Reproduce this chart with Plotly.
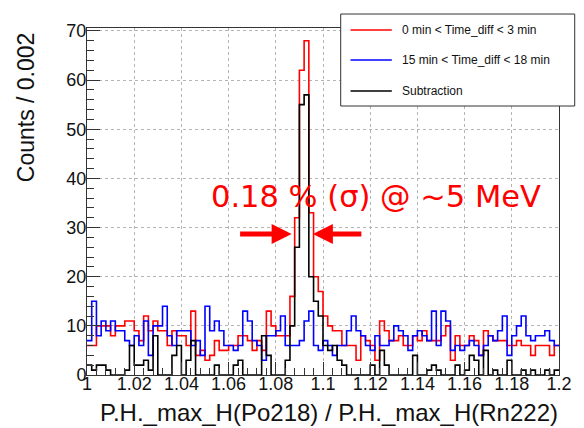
import numpy as np
import plotly.graph_objects as go

# ---- data (counts per 0.002 bin) ----
bin_low = 1.0
bin_width = 0.002

red_counts = [6, 6, 10, 10, 10, 8, 10, 10, 11, 11,
              9, 7, 12, 9, 11, 9, 9, 6, 9, 8,
              8, 6, 13, 4, 5, 3, 4, 7, 5, 5,
              6, 6, 8, 8, 7, 5, 7, 5, 13, 10,
              8, 8, 8, 16, 32, 62, 68, 33, 20, 17,
              12, 10, 9, 9, 6, 6, 6, 3, 8, 7,
              6, 3, 11, 9, 7, 7, 8, 6, 6, 8,
              7, 9, 7, 7, 7, 8, 10, 3, 8, 6,
              6, 8, 7, 4, 9, 8, 7, 7, 7, 6,
              6, 7, 6, 6, 4, 6, 6, 6, 4, 6]

blue_counts = [7, 15, 8, 11, 9, 11, 9, 9, 7, 6,
               8, 6, 11, 4, 10, 10, 14, 8, 6, 9,
               9, 9, 6, 7, 4, 14, 9, 11, 9, 6,
               6, 5, 6, 13, 11, 7, 6, 3, 8, 8,
               9, 12, 6, 6, 6, 7, 11, 13, 6, 5,
               7, 6, 4, 6, 6, 9, 12, 9, 8, 6,
               5, 8, 6, 6, 7, 10, 9, 8, 5, 8,
               9, 8, 7, 13, 6, 13, 11, 5, 6, 5,
               6, 7, 6, 4, 6, 8, 7, 9, 12, 4,
               8, 10, 12, 8, 7, 8, 8, 9, 7, 6]

black_counts = [2, 1, 2, 2, 1, 0, 0, 0, 1, 6,
                2, 2, 3, 1, 8, 0, 0, 0, 4, 6,
                0, 3, 7, 0, 0, 0, 0, 2, 0, 0,
                0, 2, 3, 0, 0, 0, 0, 8, 4, 0,
                0, 0, 3, 10, 26, 55, 57, 20, 15, 12,
                6, 5, 6, 3, 2, 0, 0, 0, 0, 0,
                2, 0, 5, 2, 0, 0, 0, 0, 0, 4,
                0, 0, 1, 2, 1, 0, 0, 0, 2, 0,
                1, 4, 3, 0, 5, 0, 1, 0, 0, 3,
                0, 0, 1, 0, 1, 0, 0, 1, 0, 1]

series_names = ["0 min < Time_diff < 3 min",
                "15 min < Time_diff < 18 min",
                "Subtraction"]
series_colors = ["#ff0000", "#0000ff", "#000000"]

x_tick_vals = [1.0, 1.02, 1.04, 1.06, 1.08, 1.1, 1.12, 1.14, 1.16, 1.18, 1.2]
x_tick_text = ["1", "1.02", "1.04", "1.06", "1.08", "1.1", "1.12", "1.14", "1.16", "1.18", "1.2"]
y_tick_vals = [0, 10, 20, 30, 40, 50, 60, 70]

x_title = "P.H._max_H(Po218) / P.H._max_H(Rn222)"
y_title = "Counts / 0.002"
note_text = "0.18 % (σ) @ ~5 MeV"

# ---- figure ----
n_bins = len(red_counts)
edges = bin_low + bin_width * np.arange(n_bins + 1)

fig = go.Figure()
for vals, name, col in zip([red_counts, blue_counts, black_counts], series_names, series_colors):
    yv = list(vals) + [vals[-1]]
    fig.add_trace(go.Scatter(x=edges, y=yv, mode="lines", name=name,
                             line=dict(color=col, width=1.6, shape="hv"),
                             showlegend=False, hoverinfo="skip"))

tick_font = dict(family="Liberation Sans, Arial, sans-serif", size=18, color="#111")
grid_col = "#b4b4b4"

fig.update_xaxes(range=[1.0, 1.2], tickvals=x_tick_vals, ticktext=x_tick_text,
                 ticks="inside", ticklen=13, tickwidth=1, tickcolor="#333",
                 minor=dict(dtick=0.004, tick0=1.0, ticks="inside", ticklen=7, tickcolor="#333", showgrid=False),
                 showline=True, linecolor="#333", linewidth=1, mirror=True,
                 showgrid=True, gridcolor=grid_col, griddash="dot", gridwidth=1,
                 zeroline=False, tickfont=tick_font, ticklabelstandoff=-8)
fig.update_yaxes(range=[0, 70.6], tickvals=y_tick_vals,
                 ticks="inside", ticklen=13, tickwidth=1, tickcolor="#333",
                 minor=dict(dtick=2, tick0=0, ticks="inside", ticklen=7, tickcolor="#333", showgrid=False),
                 showline=True, linecolor="#333", linewidth=1, mirror=True,
                 showgrid=True, gridcolor=grid_col, griddash="dot", gridwidth=1,
                 zeroline=False, tickfont=tick_font, ticklabelstandoff=-4)

shapes = []
annotations = []

# custom ROOT-like legend box (paper coords; plot area is 480 x 347 px)
lx0, lx1, ly0, ly1 = 0.5375, 1.0333, 0.7752, 1.0403
shapes.append(dict(type="rect", xref="paper", yref="paper", x0=lx0, x1=lx1, y0=ly0, y1=ly1,
                   fillcolor="white", line=dict(color="#333", width=1), layer="above"))
leg_y = [0.9942, 0.9078, 0.8184]
for yy, name, col in zip(leg_y, series_names, series_colors):
    shapes.append(dict(type="line", xref="paper", yref="paper", x0=0.5583, x1=0.6458, y0=yy, y1=yy,
                       line=dict(color=col, width=1.6), layer="above"))
    annotations.append(dict(xref="paper", yref="paper", x=0.6625, y=yy, text=name, showarrow=False,
                            xanchor="left", yanchor="middle",
                            font=dict(family="Liberation Sans, Arial, sans-serif", size=12, color="#111")))

# axis titles
annotations.append(dict(xref="paper", yref="paper", x=-0.129, y=0.772, text=y_title, textangle=-90,
                        showarrow=False, xanchor="center", yanchor="middle",
                        font=dict(family="Liberation Sans, Arial, sans-serif", size=23, color="#111")))
annotations.append(dict(xref="paper", yref="paper", x=1.002, y=-0.1095, text=x_title,
                        showarrow=False, xanchor="right", yanchor="middle",
                        font=dict(family="Liberation Sans, Arial, sans-serif", size=24, color="#111")))

# resolution note and arrows
annotations.append(dict(xref="x", yref="y", x=1.1225, y=36.4, text=note_text, showarrow=False,
                        xanchor="center", yanchor="middle",
                        font=dict(family="DejaVu Sans, sans-serif", size=30.5, color="#ff0000")))
annotations.append(dict(xref="x", yref="y", x=1.0867, y=28.7, text="", showarrow=True,
                        ax=-53, ay=0, arrowhead=2, arrowsize=0.8, arrowwidth=5, arrowcolor="#ff0000"))
annotations.append(dict(xref="x", yref="y", x=1.0957, y=28.7, text="", showarrow=True,
                        ax=50, ay=0, arrowhead=2, arrowsize=0.8, arrowwidth=5, arrowcolor="#ff0000"))

fig.update_layout(width=584, height=428,
                  margin=dict(l=87, r=17, t=28, b=53),
                  paper_bgcolor="white", plot_bgcolor="white",
                  shapes=shapes, annotations=annotations, showlegend=False)

# remove the browser's default 8 px body margin so the figure fills the window exactly
page_css = ("document.body.style.margin='0px';document.body.style.padding='0px';"
            "document.documentElement.style.overflow='hidden';document.body.style.overflow='hidden';")

fig.write_html("out.html", post_script=page_css, config={"displayModeBar": False})
